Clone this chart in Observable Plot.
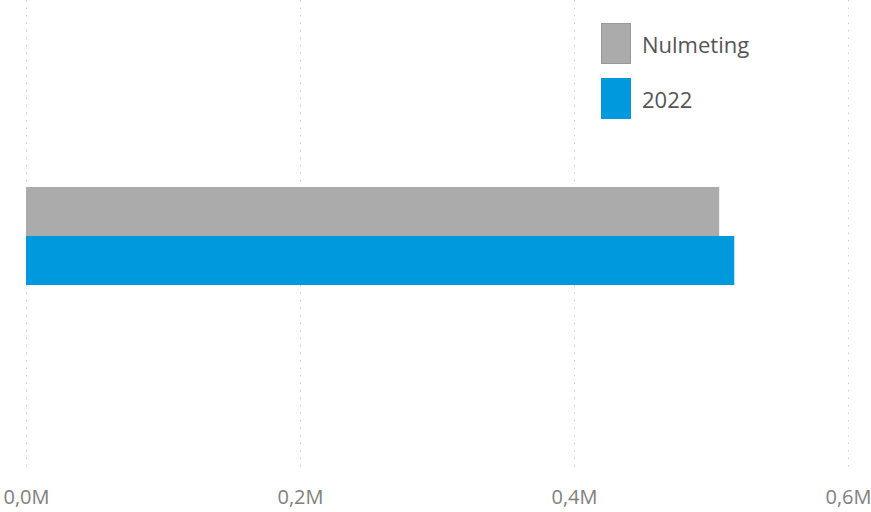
<!DOCTYPE html>
<html>
<head>
<meta charset="utf-8">
<script src="https://cdn.jsdelivr.net/npm/d3@7"></script>
<script src="https://cdn.jsdelivr.net/npm/@observablehq/plot@0.6"></script>
<style>
  html, body { margin: 0; padding: 0; background: #fff; }
  #wrap { position: relative; width: 871px; height: 512px; font-family: "Open Sans", "Noto Sans", sans-serif; }
  #legend { position: absolute; left: 601px; top: 23px; }
  .item { display: flex; align-items: center; height: 41px; margin-bottom: 14px; }
  .sw { width: 30px; height: 41px; margin-right: 11px; box-sizing: border-box; }
  .lab { font-size: 22px; color: #555; }
</style>
</head>
<body>
<div id="wrap"></div>
<script>
const series = ["Nulmeting", "2022"];
const values = [506000, 517000];
const colors = ["#ABABAB", "#0099DD"];
const ticks = [0, 200000, 400000, 600000];

const data = series.map((s, i) => ({series: s, value: values[i]}));
const fmt = d => (d / 1e6).toFixed(1).replace(".", ",") + "M";

const chart = Plot.plot({
  width: 871,
  height: 512,
  marginLeft: 26,
  marginRight: 23,
  marginTop: 0,
  marginBottom: 42,
  style: {fontFamily: "'Open Sans', 'Noto Sans', sans-serif", fontSize: "20px", color: "#808080", background: "#fff"},
  x: {domain: [0, 600000], ticks: ticks, tickFormat: fmt, tickSize: 0, tickPadding: 19, label: null},
  y: {domain: series, range: [187, 285], padding: 0, axis: null},
  color: {domain: series, range: colors},
  marks: [
    Plot.gridX(ticks, {stroke: "#cfcfcf", strokeOpacity: 1, strokeDasharray: "1.5,6", strokeWidth: 1}),
    Plot.barX(data, {x: "value", y: "series", fill: "series"}),
    Plot.axisX({ticks: ticks, tickSize: 0, tickPadding: 19, tickFormat: fmt, fill: "#808080", label: null})
  ]
});

const wrap = document.getElementById("wrap");
wrap.appendChild(chart);

const legend = document.createElement("div");
legend.id = "legend";
series.forEach((s, i) => {
  const item = document.createElement("div");
  item.className = "item";
  const sw = document.createElement("div");
  sw.className = "sw";
  sw.style.background = colors[i];
  if (i === 0) sw.style.border = "1px solid #999";
  const lab = document.createElement("span");
  lab.className = "lab";
  lab.textContent = s;
  item.appendChild(sw);
  item.appendChild(lab);
  legend.appendChild(item);
});
wrap.appendChild(legend);
</script>
</body>
</html>
